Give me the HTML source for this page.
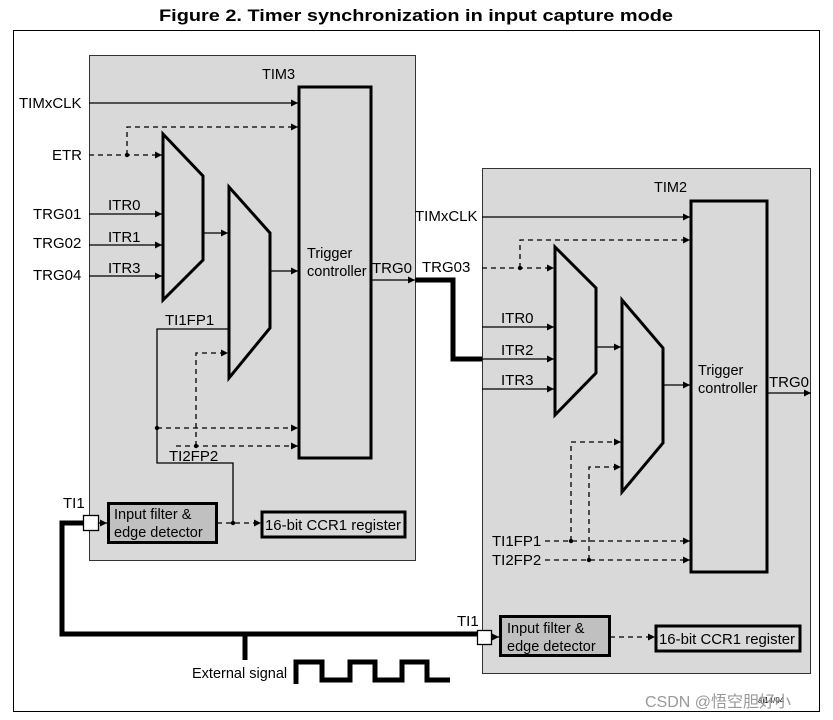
<!DOCTYPE html>
<html><head><meta charset="utf-8"><style>
html,body{margin:0;padding:0;background:#fff;}
svg{display:block;font-family:"Liberation Sans",Arial,sans-serif;}
</style></head><body>
<svg width="833" height="720" viewBox="0 0 833 720" xmlns="http://www.w3.org/2000/svg">
<defs>
<marker id="a" viewBox="0 0 10 10" refX="10" refY="5" markerWidth="9" markerHeight="7" markerUnits="userSpaceOnUse" orient="auto"><path d="M0,0 L10,5 L0,10 z" fill="#000"/></marker>
</defs>
<text x="416" y="21" text-anchor="middle" font-size="17" font-weight="bold" textLength="514" lengthAdjust="spacingAndGlyphs">Figure 2. Timer synchronization in input capture mode</text>
<rect x="13.5" y="30.5" width="806" height="681" fill="none" stroke="#000" stroke-width="1"/>

<!-- TIM3 -->
<rect x="89.5" y="55.5" width="326" height="505" fill="#d9d9d9" stroke="#333" stroke-width="1"/>
<text x="262" y="79" font-size="14.5">TIM3</text>
<rect x="299" y="87" width="72" height="371" fill="#d9d9d9" stroke="#000" stroke-width="3"/>
<text x="307" y="258" font-size="14.5">Trigger</text>
<text x="307" y="276" font-size="14.5">controller</text>
<polygon points="163,134 203,176 203,260 163,300" fill="#d9d9d9" stroke="#000" stroke-width="3"/>
<polygon points="229,187 270,233 270,328 229,378" fill="#d9d9d9" stroke="#000" stroke-width="3"/>
<g stroke="#000" stroke-width="1.3" fill="none">
<line x1="89" y1="103" x2="298" y2="103" marker-end="url(#a)"/>
<line x1="89" y1="214" x2="162" y2="214" marker-end="url(#a)"/>
<line x1="89" y1="245" x2="162" y2="245" marker-end="url(#a)"/>
<line x1="89" y1="276" x2="162" y2="276" marker-end="url(#a)"/>
<line x1="203" y1="233" x2="228" y2="233" marker-end="url(#a)"/>
<line x1="270" y1="271" x2="298" y2="271" marker-end="url(#a)"/>
<line x1="371" y1="280" x2="415" y2="280" marker-end="url(#a)"/>
<polyline points="228,329 157,329 157,463 233,463 233,524"/>
<line x1="92" y1="523" x2="107" y2="523" marker-end="url(#a)"/>
</g>
<g stroke="#000" stroke-width="1.3" fill="none" stroke-dasharray="5,4">
<line x1="89" y1="155" x2="162" y2="155" marker-end="url(#a)"/>
<polyline points="127,155 127,127 298,127" marker-end="url(#a)"/>
<line x1="157" y1="428" x2="298" y2="428" marker-end="url(#a)"/>
<line x1="176" y1="446" x2="298" y2="446" marker-end="url(#a)"/>
<polyline points="196,446 196,353 228,353" marker-end="url(#a)"/>
<line x1="217" y1="523" x2="261" y2="523" marker-end="url(#a)"/>
</g>
<g fill="#000"><circle cx="127" cy="155" r="2.2"/><circle cx="157" cy="428" r="2.2"/><circle cx="196" cy="446" r="2.2"/><circle cx="233" cy="523" r="2.2"/></g>
<g font-size="15">
<text x="19" y="108">TIMxCLK</text>
<text x="52" y="160">ETR</text>
<text x="33" y="219">TRG01</text>
<text x="33" y="248">TRG02</text>
<text x="33" y="280">TRG04</text>
<text x="108" y="210">ITR0</text>
<text x="108" y="242">ITR1</text>
<text x="108" y="273">ITR3</text>
<text x="165" y="325">TI1FP1</text>
<text x="169" y="461">TI2FP2</text>
<text x="372" y="273">TRG0</text>
<text x="63" y="508">TI1</text>
</g>
<rect x="108.5" y="503.5" width="108" height="39" fill="#c0c0c0" stroke="#000" stroke-width="3"/>
<text x="114" y="519" font-size="14.5">Input filter &amp;</text>
<text x="114" y="537" font-size="14.5">edge detector</text>
<rect x="262" y="512" width="143" height="25" fill="#d9d9d9" stroke="#000" stroke-width="3"/>
<text x="265" y="530" font-size="14.5" textLength="136" lengthAdjust="spacingAndGlyphs">16-bit CCR1 register</text>

<!-- connection thick -->
<polyline points="415,280 453,280 453,359 482,359" fill="none" stroke="#000" stroke-width="5"/>
<polyline points="83,523 62,523 62,634 478,634" fill="none" stroke="#000" stroke-width="5"/>
<line x1="245" y1="634" x2="245" y2="660" stroke="#000" stroke-width="5"/>
<rect x="83.5" y="515.5" width="15" height="15" fill="#fff" stroke="#000" stroke-width="1.3"/>
<text x="192" y="678" font-size="14.5">External signal</text>
<polyline points="296,684 296,662 322,662 322,680 350,680 350,662 375,662 375,680 402,680 402,662 427,662 427,680 450,680" fill="none" stroke="#000" stroke-width="5"/>

<!-- TIM2 -->
<rect x="482.5" y="168.5" width="328" height="505" fill="#d9d9d9" stroke="#333" stroke-width="1"/>
<text x="654" y="192" font-size="14.5">TIM2</text>
<rect x="691" y="201" width="76" height="371" fill="#d9d9d9" stroke="#000" stroke-width="3"/>
<text x="698" y="375" font-size="14.5">Trigger</text>
<text x="698" y="393" font-size="14.5">controller</text>
<polygon points="555,247 596,288 596,373 555,415" fill="#d9d9d9" stroke="#000" stroke-width="3"/>
<polygon points="622,300 663,348 663,443 622,492" fill="#d9d9d9" stroke="#000" stroke-width="3"/>
<g stroke="#000" stroke-width="1.3" fill="none">
<line x1="482" y1="217" x2="690" y2="217" marker-end="url(#a)"/>
<line x1="482" y1="327" x2="554" y2="327" marker-end="url(#a)"/>
<line x1="482" y1="359" x2="554" y2="359" marker-end="url(#a)"/>
<line x1="482" y1="389" x2="554" y2="389" marker-end="url(#a)"/>
<line x1="596" y1="347" x2="621" y2="347" marker-end="url(#a)"/>
<line x1="663" y1="385" x2="690" y2="385" marker-end="url(#a)"/>
<line x1="767" y1="393" x2="811" y2="393" marker-end="url(#a)"/>
<line x1="492" y1="637" x2="499" y2="637" marker-end="url(#a)"/>
</g>
<g stroke="#000" stroke-width="1.3" fill="none" stroke-dasharray="5,4">
<line x1="482" y1="268" x2="554" y2="268" marker-end="url(#a)"/>
<polyline points="520,268 520,240 690,240" marker-end="url(#a)"/>
<line x1="545" y1="541" x2="690" y2="541" marker-end="url(#a)"/>
<line x1="545" y1="560" x2="690" y2="560" marker-end="url(#a)"/>
<polyline points="571,541 571,442 621,442" marker-end="url(#a)"/>
<polyline points="589,560 589,467 621,467" marker-end="url(#a)"/>
<line x1="610" y1="637" x2="655" y2="637" marker-end="url(#a)"/>
</g>
<g fill="#000"><circle cx="520" cy="268" r="2.2"/><circle cx="571" cy="541" r="2.2"/><circle cx="589" cy="560" r="2.2"/></g>
<g font-size="15">
<text x="415" y="221">TIMxCLK</text>
<text x="422" y="272">TRG03</text>
<text x="501" y="323">ITR0</text>
<text x="501" y="355">ITR2</text>
<text x="501" y="385">ITR3</text>
<text x="769" y="387">TRG0</text>
<text x="492" y="546">TI1FP1</text>
<text x="492" y="565">TI2FP2</text>
<text x="457" y="626">TI1</text>
</g>
<rect x="500.5" y="616.5" width="109" height="39" fill="#c0c0c0" stroke="#000" stroke-width="3"/>
<text x="507" y="633" font-size="14.5">Input filter &amp;</text>
<text x="507" y="651" font-size="14.5">edge detector</text>
<rect x="656" y="626" width="144" height="25" fill="#d9d9d9" stroke="#000" stroke-width="3"/>
<text x="659" y="644" font-size="14.5" textLength="136" lengthAdjust="spacingAndGlyphs">16-bit CCR1 register</text>
<rect x="477.5" y="630.5" width="14" height="14" fill="#fff" stroke="#000" stroke-width="1.3"/>

<text x="758" y="703" font-size="8">ai14/04</text>
<text x="645" y="707" font-size="16" fill="#999" font-family="'Liberation Sans','Noto Sans CJK SC',sans-serif">CSDN @悟空胆好小</text>
</svg>
</body></html>
